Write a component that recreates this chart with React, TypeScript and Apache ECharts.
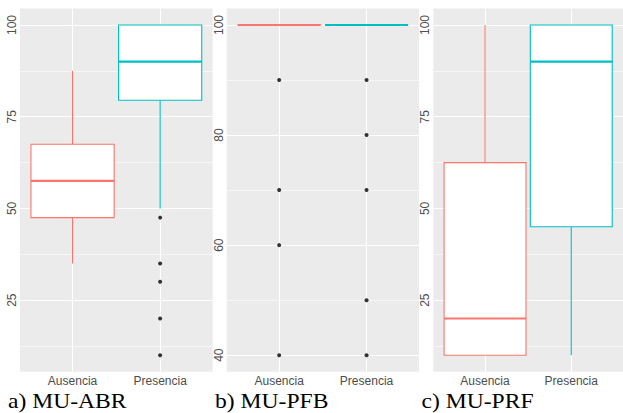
import React, { useEffect, useRef } from "react";
import * as echarts from "echarts";

const categories = ["Ausencia", "Presencia"];
const categoryPositions = [1, 2];
const boxColors = ["#F8766D", "#00BFC4"];

// each box: [min, Q1, median, Q3, max]
const abrBoxes = [
  [35, 47.5, 57.5, 67.5, 87.5],
  [50, 79.5, 90, 100, 100],
];
const abrOutliers = [[], [47.5, 35, 30, 20, 10]];

const pfbBoxes = [
  [100, 100, 100, 100, 100],
  [100, 100, 100, 100, 100],
];
const pfbOutliers = [
  [90, 70, 60, 40],
  [90, 80, 70, 50, 40],
];

const prfBoxes = [
  [10, 10, 20, 62.5, 100],
  [10, 45, 90, 100, 100],
];
const prfOutliers = [[], []];

const abrTicks = [25, 50, 75, 100];
const abrMinor = [12.5, 37.5, 62.5, 87.5];
const pfbTicks = [40, 60, 80, 100];
const pfbMinor = [50, 70, 90];
const prfTicks = [25, 50, 75, 100];
const prfMinor = [12.5, 37.5, 62.5, 87.5];

const abrRange = [5.5, 104.5];
const pfbRange = [37, 103];
const prfRange = [5.5, 104.5];

const captions = ["a) MU-ABR", "b) MU-PFB", "c) MU-PRF"];

const panels = [
  { boxes: abrBoxes, outliers: abrOutliers, ticks: abrTicks, minor: abrMinor, range: abrRange },
  { boxes: pfbBoxes, outliers: pfbOutliers, ticks: pfbTicks, minor: pfbMinor, range: pfbRange },
  { boxes: prfBoxes, outliers: prfOutliers, ticks: prfTicks, minor: prfMinor, range: prfRange },
];

const gridLayout = [
  { left: 20, top: 8.5, width: 192.7, height: 363.2 },
  { left: 226.7, top: 8.5, width: 192.3, height: 363.2 },
  { left: 433.3, top: 8.5, width: 192.5, height: 363.2 },
];
const captionX = [8, 215, 421.5];

const textColor = "#4D4D4D";
const sansFont = "Liberation Sans";

export default function App() {
  const ref = useRef<HTMLDivElement>(null);

  useEffect(() => {
    if (!ref.current) return;
    const chart = echarts.init(ref.current, undefined, { renderer: "svg" });

    const grid: any[] = [];
    const xAxis: any[] = [];
    const yAxis: any[] = [];
    const series: any[] = [];

    panels.forEach((p, i) => {
      grid.push({
        ...gridLayout[i],
        show: true,
        backgroundColor: "#EBEBEB",
        borderWidth: 0,
      });
      xAxis.push({
        type: "value",
        gridIndex: i,
        min: 0.4,
        max: 2.6,
        axisLine: { show: false },
        axisTick: { show: false, customValues: categoryPositions },
        axisLabel: {
          customValues: categoryPositions,
          formatter: (v: number) => categories[Math.round(v) - 1] ?? "",
          color: textColor,
          fontFamily: sansFont,
          fontSize: 12,
          margin: 3,
        },
        splitLine: { show: true, lineStyle: { color: "#FFFFFF", width: 1.1 } },
      });
      yAxis.push({
        type: "value",
        gridIndex: i,
        min: p.range[0],
        max: p.range[1],
        axisLine: { show: false },
        axisTick: { show: false, customValues: p.ticks },
        axisLabel: {
          customValues: p.ticks,
          rotate: 90,
          color: textColor,
          fontFamily: sansFont,
          fontSize: 12,
          margin: 2,
        },
        splitLine: { show: true, lineStyle: { color: "#FFFFFF", width: 1.1 } },
      });
      yAxis.push({
        type: "value",
        gridIndex: i,
        position: "right",
        min: p.range[0],
        max: p.range[1],
        axisLine: { show: false },
        axisTick: { show: false, customValues: p.minor },
        axisLabel: { show: false },
        splitLine: { show: true, lineStyle: { color: "#FFFFFF", width: 0.55 } },
      });

      const boxData = p.boxes.map((b, k) => [categoryPositions[k], ...b]);
      series.push({
        type: "custom",
        xAxisIndex: i,
        yAxisIndex: i * 2,
        encode: { x: 0, y: [1, 2, 3, 4, 5] },
        data: boxData,
        silent: true,
        renderItem: (params: any, api: any) => {
          const x = api.value(0);
          const mn = api.value(1);
          const q1 = api.value(2);
          const md = api.value(3);
          const q3 = api.value(4);
          const mx = api.value(5);
          const color = boxColors[params.dataIndex];
          const cx = api.coord([x, md])[0];
          const halfW = api.size([0.95, 0])[0] / 2;
          const y = (v: number) => api.coord([x, v])[1];
          const top = y(q3);
          const bottom = y(q1);
          return {
            type: "group",
            children: [
              {
                type: "line",
                shape: { x1: cx, y1: y(mx), x2: cx, y2: top },
                style: { stroke: color, lineWidth: 1.1 },
              },
              {
                type: "line",
                shape: { x1: cx, y1: bottom, x2: cx, y2: y(mn) },
                style: { stroke: color, lineWidth: 1.1 },
              },
              {
                type: "rect",
                shape: { x: cx - halfW, y: top, width: halfW * 2, height: bottom - top },
                style: { fill: "#FFFFFF", stroke: color, lineWidth: 1.1 },
              },
              {
                type: "line",
                shape: { x1: cx - halfW, y1: y(md), x2: cx + halfW, y2: y(md) },
                style: { stroke: color, lineWidth: 2.2 },
              },
            ],
          };
        },
      });

      const outData: number[][] = [];
      p.outliers.forEach((vals, k) => {
        vals.forEach((v) => outData.push([categoryPositions[k], v]));
      });
      series.push({
        type: "scatter",
        xAxisIndex: i,
        yAxisIndex: i * 2,
        data: outData,
        symbol: "circle",
        symbolSize: 4,
        itemStyle: { color: "#000000" },
        silent: true,
      });
    });

    const graphic = captions.map((c, i) => ({
      type: "text",
      x: captionX[i],
      y: 401.5,
      scaleX: 1.18,
      style: {
        text: c,
        fontFamily: "Liberation Serif",
        fontSize: 20,
        fill: "#000000",
        textAlign: "left",
        textVerticalAlign: "middle",
      },
    }));

    chart.setOption({
      animation: false,
      backgroundColor: "#FFFFFF",
      grid,
      xAxis,
      yAxis,
      series,
      graphic,
    });

    return () => chart.dispose();
  }, []);

  return (
    <div
      ref={ref}
      style={{ position: "absolute", left: 0, top: 0, width: 623, height: 413 }}
    />
  );
}
